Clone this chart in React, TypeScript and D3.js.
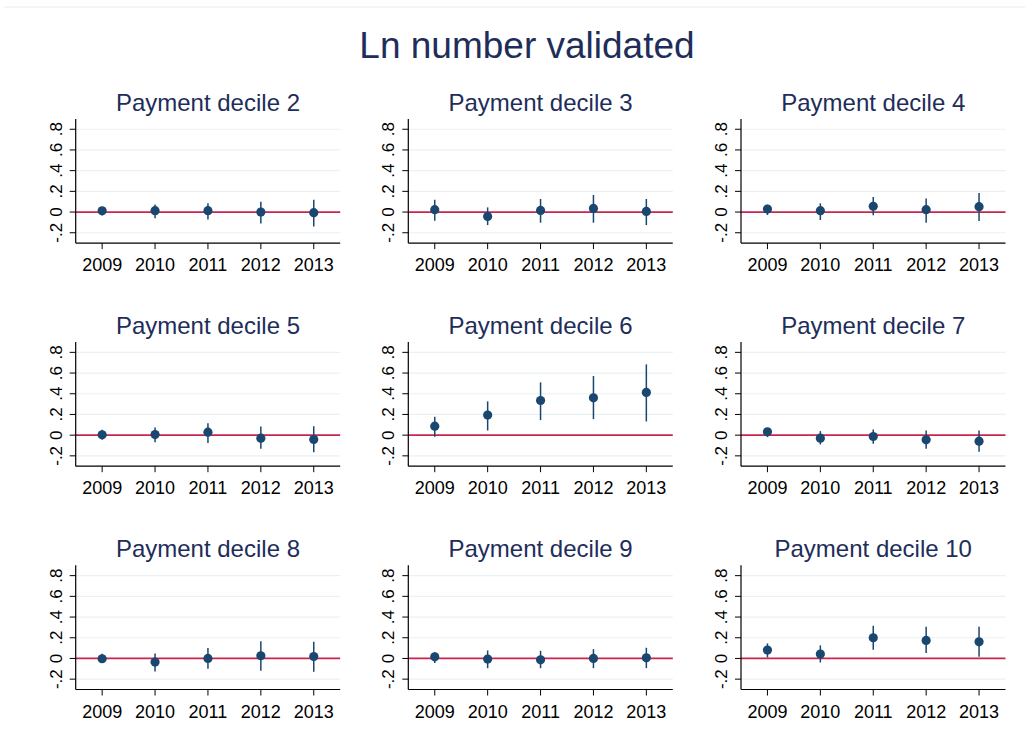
import React from "react";
import * as d3 from "d3";

const years = [2009, 2010, 2011, 2012, 2013];
const panelTitles = [
  "Payment decile 2", "Payment decile 3", "Payment decile 4",
  "Payment decile 5", "Payment decile 6", "Payment decile 7",
  "Payment decile 8", "Payment decile 9", "Payment decile 10",
];
// point estimates per panel
const estimates = [
  [0.012, 0.013, 0.013, 0.0, -0.006],
  [0.023, -0.042, 0.016, 0.035, 0.006],
  [0.029, 0.013, 0.055, 0.023, 0.052],
  [0.003, 0.006, 0.029, -0.029, -0.042],
  [0.087, 0.194, 0.335, 0.361, 0.413],
  [0.032, -0.029, -0.013, -0.045, -0.058],
  [-0.003, -0.035, 0.0, 0.026, 0.019],
  [0.016, -0.006, -0.013, 0.0, 0.006],
  [0.081, 0.042, 0.2, 0.174, 0.161],
];
const lower = [
  [-0.03, -0.061, -0.071, -0.11, -0.14],
  [-0.084, -0.126, -0.103, -0.103, -0.126],
  [-0.029, -0.077, -0.032, -0.103, -0.087],
  [-0.042, -0.068, -0.077, -0.132, -0.165],
  [-0.016, 0.045, 0.145, 0.155, 0.132],
  [-0.019, -0.09, -0.084, -0.132, -0.161],
  [-0.045, -0.126, -0.1, -0.119, -0.129],
  [-0.045, -0.094, -0.094, -0.094, -0.094],
  [0.01, -0.039, 0.084, 0.052, 0.016],
];
const upper = [
  [0.05, 0.074, 0.084, 0.1, 0.12],
  [0.12, 0.045, 0.126, 0.165, 0.126],
  [0.071, 0.084, 0.145, 0.132, 0.184],
  [0.052, 0.074, 0.116, 0.084, 0.087],
  [0.177, 0.326, 0.51, 0.571, 0.684],
  [0.061, 0.039, 0.055, 0.045, 0.045],
  [0.045, 0.048, 0.1, 0.165, 0.161],
  [0.061, 0.077, 0.074, 0.09, 0.103],
  [0.145, 0.126, 0.316, 0.306, 0.306],
];
const yTicks = [-0.2, 0, 0.2, 0.4, 0.6, 0.8];
const yTickLabels = ["-.2", "0", ".2", ".4", ".6", ".8"];
const mainTitle = "Ln number validated";

const FONT = "'Liberation Sans', Arial, sans-serif";
const NAVY = "#1a476f";
const TITLE = "#1e2d5a";
const RED = "#c8264f";
const GRID = "#eaf1f3";

export default function App() {
  const W = 1025, H = 750;
  const colX = [75.7, 408.3, 741];
  const plotW = 264.5;
  const rowTop = [118.9, 342, 565.3];
  const plotH = 124.2;

  return (
    <svg width={W} height={H} style={{ position: "absolute", left: 0, top: 0, background: "#fff" }} fontFamily={FONT}>
      <rect x={0} y={0} width={W} height={H} fill="#fff" />
      <line x1={4} x2={W} y1={7} y2={7} stroke="#ebebeb" strokeWidth={1} />
      <text x={527} y={58} textAnchor="middle" fontSize={37} fill={TITLE}>{mainTitle}</text>
      {panelTitles.map((t, i) => {
        const r = Math.floor(i / 3), c = i % 3;
        const x0 = colX[c], y0 = rowTop[r];
        const x = d3.scaleLinear().domain([2008.5, 2013.5]).range([x0, x0 + plotW]);
        const y = d3.scaleLinear().domain([-0.3, 0.9]).range([y0 + plotH, y0]);
        return (
          <g key={t}>
            <text x={x0 + plotW / 2} y={y0 - 8} textAnchor="middle" fontSize={24} fill={TITLE}>{t}</text>
            {yTicks.filter((v) => v !== 0).map((v) => (
              <line key={v} x1={x0} x2={x0 + plotW} y1={y(v)} y2={y(v)} stroke={GRID} strokeWidth={1.2} />
            ))}
            <line x1={x0} x2={x0 + plotW} y1={y(0)} y2={y(0)} stroke={RED} strokeWidth={1.8} />
            <line x1={x0} x2={x0} y1={y0} y2={y0 + plotH} stroke="#000" strokeWidth={1.2} />
            <line x1={x0} x2={x0 + plotW} y1={y0 + plotH} y2={y0 + plotH} stroke="#000" strokeWidth={1.2} />
            {yTicks.map((v, k) => (
              <g key={v}>
                <line x1={x0 - 6} x2={x0} y1={y(v)} y2={y(v)} stroke="#000" strokeWidth={1} />
                <text transform={`translate(${x0 - 14},${y(v)}) rotate(-90)`} textAnchor="middle" fontSize={17} fill="#000">{yTickLabels[k]}</text>
              </g>
            ))}
            {years.map((yr) => (
              <g key={yr}>
                <line x1={x(yr)} x2={x(yr)} y1={y0 + plotH} y2={y0 + plotH + 6} stroke="#000" strokeWidth={1} />
                <text x={x(yr)} y={y0 + plotH + 28} textAnchor="middle" fontSize={18} fill="#000">{yr}</text>
              </g>
            ))}
            {years.map((yr, j) => (
              <g key={"p" + yr}>
                <line x1={x(yr)} x2={x(yr)} y1={y(lower[i][j])} y2={y(upper[i][j])} stroke={NAVY} strokeWidth={1.5} />
                <circle cx={x(yr)} cy={y(estimates[i][j])} r={4.6} fill={NAVY} />
              </g>
            ))}
          </g>
        );
      })}
    </svg>
  );
}
